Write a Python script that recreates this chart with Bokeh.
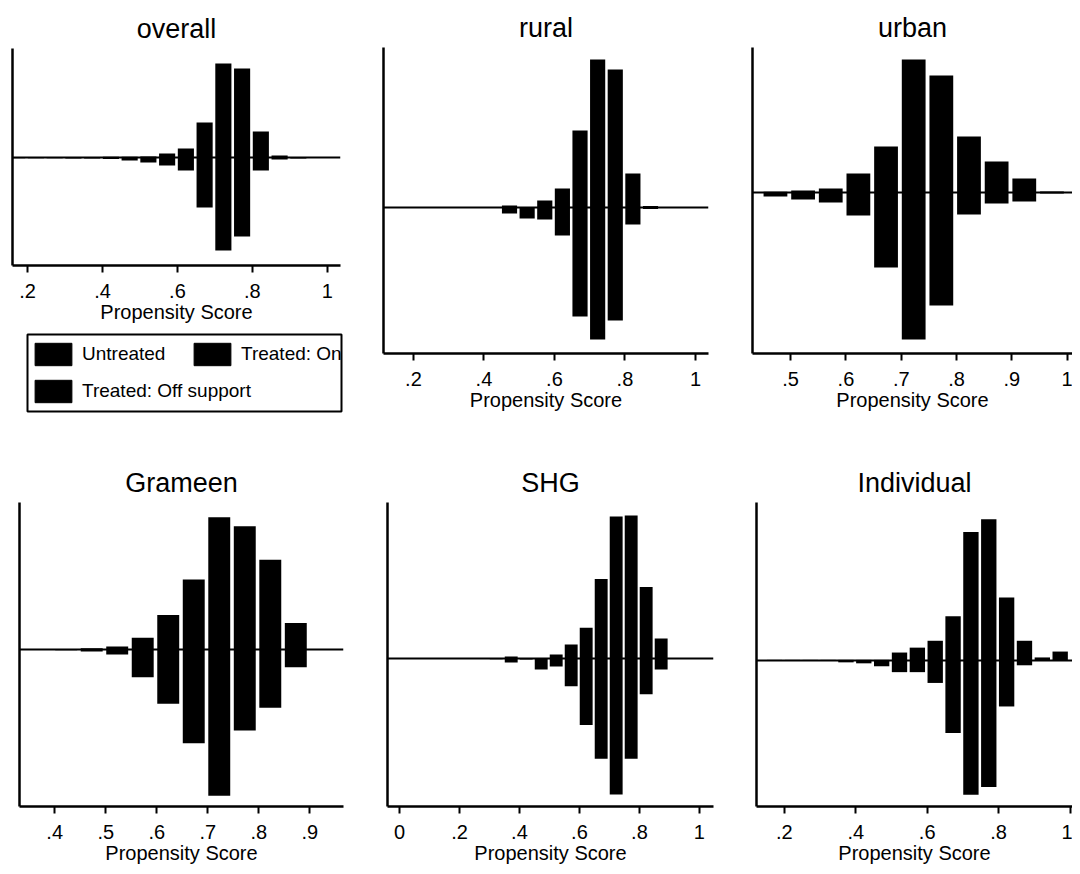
from bokeh.plotting import figure
from bokeh.models import Range1d, FixedTicker, Span, Legend, LegendItem, Spacer
from bokeh.layouts import row, column
from bokeh.embed import file_html
from bokeh.resources import INLINE

# ---------------- data ----------------
# left edges of the propensity-score bins (width 0.05)
bins = [0.00, 0.05, 0.10, 0.15, 0.20, 0.25, 0.30, 0.35, 0.40, 0.45,
        0.50, 0.55, 0.60, 0.65, 0.70, 0.75, 0.80, 0.85, 0.90, 0.95]

overall_treated = [0, 0, 0, 0.005, 0.005, 0.005, 0.005, 0.005, 0.007, 0.008,
                   0.01, 0.04, 0.09, 0.35, 0.94, 0.89, 0.26, 0.02, 0.005, 0.005]
overall_untreated = [0, 0, 0, 0.007, 0.007, 0.007, 0.01, 0.01, 0.015, 0.03,
                     0.05, 0.08, 0.13, 0.50, 0.93, 0.79, 0.13, 0.02, 0.01, 0.005]

rural_treated = [0, 0, 0, 0.005, 0.005, 0.005, 0.005, 0.005, 0.005, 0.02,
                 0.005, 0.07, 0.19, 0.77, 1.48, 1.38, 0.34, 0.015, 0.005, 0.005]
rural_untreated = [0, 0, 0, 0.005, 0.005, 0.005, 0.005, 0.005, 0.005, 0.06,
                   0.11, 0.12, 0.28, 1.09, 1.32, 1.13, 0.17, 0.015, 0.005, 0.005]

urban_treated = [0, 0, 0, 0, 0, 0, 0, 0, 0, 0.007,
                 0.02, 0.04, 0.19, 0.46, 1.33, 1.17, 0.56, 0.31, 0.14, 0.01]
urban_untreated = [0, 0, 0, 0, 0, 0, 0, 0, 0, 0.04,
                   0.07, 0.10, 0.23, 0.75, 1.47, 1.13, 0.22, 0.11, 0.09, 0.01]

grameen_treated = [0, 0, 0, 0, 0, 0, 0, 0.005, 0.005, 0.013,
                   0.03, 0.12, 0.35, 0.71, 1.34, 1.25, 0.91, 0.27, 0.005, 0]
grameen_untreated = [0, 0, 0, 0, 0, 0, 0, 0.005, 0.008, 0.02,
                     0.05, 0.28, 0.55, 0.95, 1.48, 0.82, 0.59, 0.18, 0.005, 0]

shg_treated = [0.003, 0.003, 0.003, 0.003, 0.003, 0.003, 0.005, 0.02, 0.005, 0.005,
               0.04, 0.14, 0.31, 0.80, 1.43, 1.44, 0.72, 0.20, 0.005, 0]
shg_untreated = [0.004, 0.004, 0.004, 0.004, 0.004, 0.004, 0.008, 0.04, 0.01, 0.11,
                 0.08, 0.28, 0.67, 1.01, 1.37, 1.01, 0.36, 0.11, 0.005, 0]

individual_treated = [0, 0, 0, 0.005, 0.005, 0.005, 0.005, 0.005, 0.005, 0.005,
                      0.08, 0.13, 0.20, 0.45, 1.31, 1.44, 0.64, 0.20, 0.03, 0.09]
individual_untreated = [0, 0, 0, 0.005, 0.005, 0.005, 0.005, 0.02, 0.03, 0.06,
                        0.12, 0.12, 0.23, 0.74, 1.37, 1.29, 0.47, 0.05, 0.003, 0.003]

titles = ["overall", "rural", "urban", "Grameen", "SHG", "Individual"]

ticks_a = [0.2, 0.4, 0.6, 0.8, 1.0]
labels_a = [".2", ".4", ".6", ".8", "1"]
ticks_urban = [0.5, 0.6, 0.7, 0.8, 0.9, 1.0]
labels_urban = [".5", ".6", ".7", ".8", ".9", "1"]
ticks_grameen = [0.4, 0.5, 0.6, 0.7, 0.8, 0.9]
labels_grameen = [".4", ".5", ".6", ".7", ".8", ".9"]
ticks_shg = [0.0, 0.2, 0.4, 0.6, 0.8, 1.0]
labels_shg = ["0", ".2", ".4", ".6", ".8", "1"]

legend_labels = ["Untreated", "Treated: On support", "Treated: Off support"]

# ---------------- styling / building ----------------
FONT = "Liberation Sans"
BAR_W = 0.043


def panel(title, treated, untreated, ticks, labels, xr, yr,
          width, height, left, right, top, bottom):
    p = figure(width=width, height=height, x_range=Range1d(*xr), y_range=Range1d(*yr),
               toolbar_location=None, output_backend="svg",
               min_border_left=left, min_border_right=right,
               min_border_top=top, min_border_bottom=bottom,
               background_fill_color="white", border_fill_color="white",
               outline_line_color=None)
    p.title.text = title
    p.title.align = "center"
    p.title.text_font = FONT
    p.title.text_font_size = "27px"
    p.title.text_font_style = "normal"
    p.title.text_color = "black"
    p.title.standoff = 10

    centers = [b + 0.001 + BAR_W / 2 for b in bins]
    p.vbar(x=centers, width=BAR_W, bottom=0, top=treated,
           fill_color="black", line_color=None)
    p.vbar(x=centers, width=BAR_W, top=0, bottom=[-u for u in untreated],
           fill_color="black", line_color=None)
    p.add_layout(Span(location=0, dimension="width", line_color="black", line_width=2))

    p.xgrid.visible = False
    p.ygrid.visible = False

    xa = p.xaxis[0]
    xa.ticker = FixedTicker(ticks=ticks)
    xa.major_label_overrides = {t: l for t, l in zip(ticks, labels)}
    xa.axis_line_width = 2.5
    xa.axis_line_color = "black"
    xa.major_tick_line_width = 2
    xa.major_tick_line_color = "black"
    xa.major_tick_out = 7
    xa.major_tick_in = 0
    xa.minor_tick_line_color = None
    xa.major_label_standoff = 11
    xa.major_label_text_font = FONT
    xa.major_label_text_font_size = "20px"
    xa.major_label_text_color = "black"
    xa.axis_label = "Propensity Score"
    xa.axis_label_text_font = FONT
    xa.axis_label_text_font_size = "20px"
    xa.axis_label_text_font_style = "normal"
    xa.axis_label_text_color = "black"
    xa.axis_label_standoff = 0

    ya = p.yaxis[0]
    ya.ticker = FixedTicker(ticks=[])
    ya.axis_line_width = 2.5
    ya.axis_line_color = "black"
    ya.major_tick_out = 0
    ya.major_tick_in = 0
    ya.minor_tick_line_color = None
    ya.major_label_standoff = 0
    ya.major_label_text_font_size = "0px"
    return p


p1 = panel(titles[0], overall_treated, overall_untreated, ticks_a, labels_a,
           (0.16, 1.035), (-1.08, 1.09), 360, 330, 12, 20, 48, 65)
p2 = panel(titles[1], rural_treated, rural_untreated, ticks_a, labels_a,
           (0.115, 1.037), (-1.46, 1.60), 360, 430, 23, 12, 47, 77)
p3 = panel(titles[2], urban_treated, urban_untreated, ticks_urban, labels_urban,
           (0.431, 1.0097), (-1.61, 1.45), 352, 430, 32, 0, 47, 77)
p4 = panel(titles[3], grameen_treated, grameen_untreated, ticks_grameen, labels_grameen,
           (0.331, 0.966), (-1.59, 1.49), 360, 436, 19, 17, 70, 58)
p5 = panel(titles[4], shg_treated, shg_untreated, ticks_shg, labels_shg,
           (-0.04, 1.047), (-1.49, 1.57), 360, 436, 27, 7, 72, 58)
p6 = panel(titles[5], individual_treated, individual_untreated, ticks_a, labels_a,
           (0.122, 1.007), (-1.49, 1.61), 352, 436, 36, 0, 70, 56)

# legend box under the first panel
lf = figure(width=345, height=100, x_range=Range1d(0, 1), y_range=Range1d(0, 1),
            toolbar_location=None, output_backend="svg",
            x_axis_type=None, y_axis_type=None,
            min_border_left=12, min_border_right=19, min_border_top=4, min_border_bottom=19,
            outline_line_color="black", outline_line_width=2,
            background_fill_color="white", border_fill_color="white")
nan = float("nan")
swatches = [lf.quad(left=[nan], right=[nan], top=[nan], bottom=[nan],
                    fill_color="black", line_color="black") for _ in legend_labels]

common = dict(margin=0, padding=0, glyph_width=46, glyph_height=28, label_standoff=6,
              label_height=28, spacing=0, border_line_color=None, background_fill_alpha=0,
              label_text_font=FONT, label_text_font_size="19px", label_text_color="black")
leg1 = Legend(items=[LegendItem(label=legend_labels[0], renderers=[swatches[0]]),
                     LegendItem(label=legend_labels[1], renderers=[swatches[1]])],
              orientation="horizontal", location=(3, 43), label_width=107, **common)
leg2 = Legend(items=[LegendItem(label=legend_labels[2], renderers=[swatches[2]])],
              orientation="horizontal", location=(3, 6), **common)
lf.add_layout(leg1)
lf.add_layout(leg2)

col1 = column(p1, row(Spacer(width=15, height=100), lf))
layout = column(row(col1, p2, p3), row(p4, p5, p6))

open("out.html", "w").write(file_html(layout, INLINE))
